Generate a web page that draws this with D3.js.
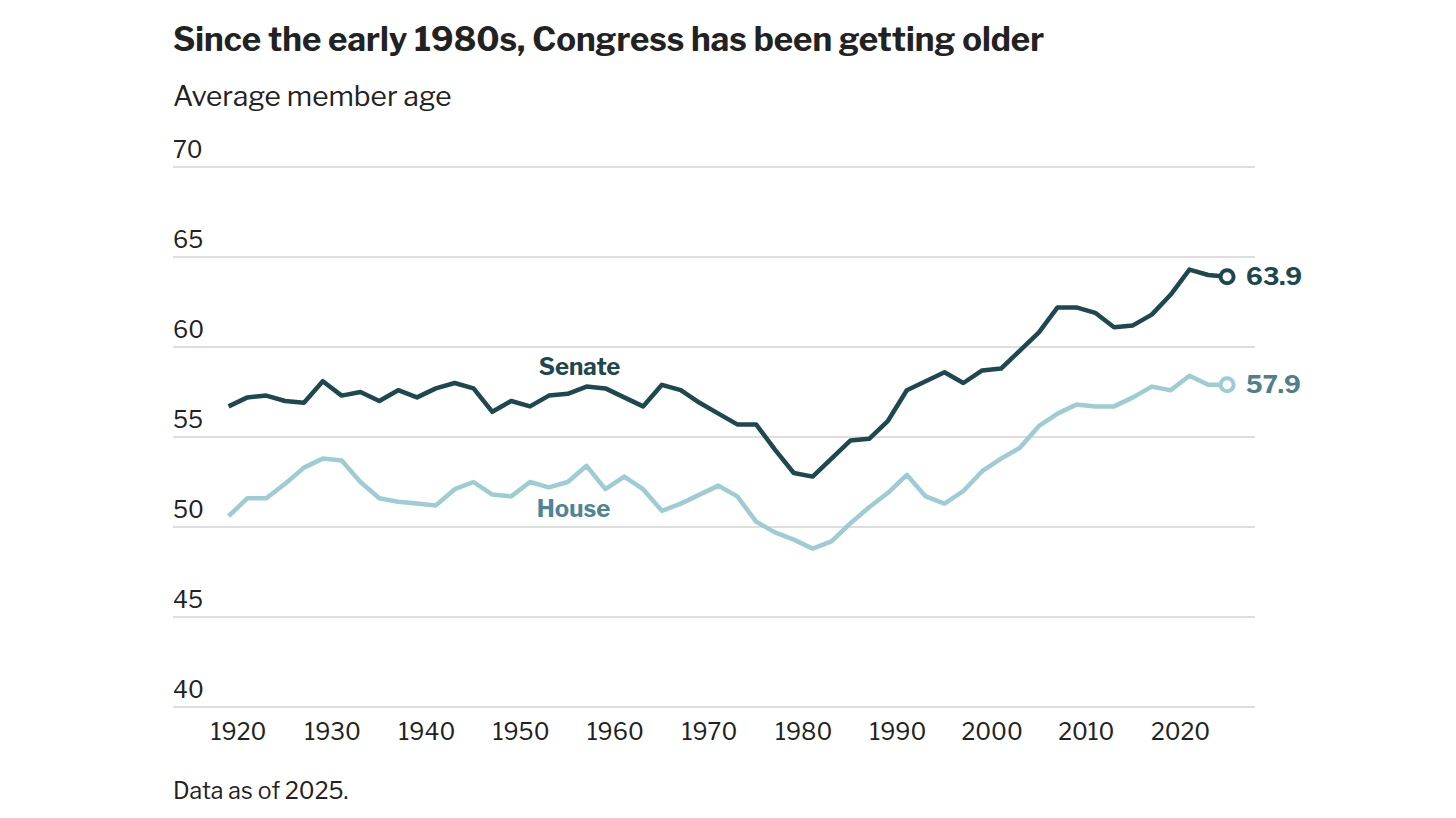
<!DOCTYPE html>
<html>
<head>
<meta charset="utf-8">
<script src="https://cdn.jsdelivr.net/npm/d3@7"></script>
<style>
  body { margin: 0; background: #fff; }
  svg text { font-family: "Libre Franklin", Roboto, "Liberation Sans", sans-serif; }
</style>
</head>
<body>
<div id="chart"></div>
<script>
var width = 1456;
var height = 818;

// congresses, every two years
var years = d3.range(1919, 2026, 2);

var senateAge = [
  56.7, 57.2, 57.3, 57.0, 56.9, 58.1, 57.3, 57.5, 57.0, 57.6,
  57.2, 57.7, 58.0, 57.7, 56.4, 57.0, 56.7, 57.3, 57.4, 57.8,
  57.7, 57.2, 56.7, 57.9, 57.6, 56.9, 56.3, 55.7, 55.7, 54.3,
  53.0, 52.8, 53.8, 54.8, 54.9, 55.9, 57.6, 58.1, 58.6, 58.0,
  58.7, 58.8, 59.8, 60.8, 62.2, 62.2, 61.9, 61.1, 61.2, 61.8,
  62.9, 64.3, 64.0, 63.9
];

var houseAge = [
  50.6, 51.6, 51.6, 52.4, 53.3, 53.8, 53.7, 52.5, 51.6, 51.4,
  51.3, 51.2, 52.1, 52.5, 51.8, 51.7, 52.5, 52.2, 52.5, 53.4,
  52.1, 52.8, 52.1, 50.9, 51.3, 51.8, 52.3, 51.7, 50.3, 49.7,
  49.3, 48.8, 49.2, 50.2, 51.1, 51.9, 52.9, 51.7, 51.3, 52.0,
  53.1, 53.8, 54.4, 55.6, 56.3, 56.8, 56.7, 56.7, 57.2, 57.8,
  57.6, 58.4, 57.9, 57.9
];

var yTicks = [40, 45, 50, 55, 60, 65, 70];
var xTicks = [1920, 1930, 1940, 1950, 1960, 1970, 1980, 1990, 2000, 2010, 2020];

var senateColor = "#1e4850";
var houseColor = "#9ecbd4";
var houseText = "#4d8593";

var svg = d3.select("#chart").append("svg")
    .attr("width", width)
    .attr("height", height);

var xScale = d3.scaleLinear()
    .domain([1919, 2025])
    .range([228.6, 1227.1]);

var yScale = d3.scaleLinear()
    .domain([40, 70])
    .range([707, 167]);

// title block
svg.append("text")
    .attr("x", 173).attr("y", 51)
    .style("font-size", "33px")
    .style("font-weight", "bold")
    .style("fill", "#222")
    .text("Since the early 1980s, Congress has been getting older");

svg.append("text")
    .attr("x", 173).attr("y", 106)
    .style("font-size", "28px")
    .style("fill", "#222")
    .text("Average member age");

// gridlines + y labels
var grid = svg.append("g");
grid.selectAll("line")
    .data(yTicks)
    .enter().append("line")
    .attr("x1", 173).attr("x2", 1255)
    .attr("y1", function(d) { return yScale(d); })
    .attr("y2", function(d) { return yScale(d); })
    .style("stroke", "#d3d3d3")
    .style("stroke-width", 1.5);

grid.selectAll("text")
    .data(yTicks)
    .enter().append("text")
    .attr("x", 173)
    .attr("y", function(d) { return yScale(d) - 9; })
    .style("font-size", "23px")
    .style("fill", "#222")
    .text(function(d) { return d; });

// x axis, labels only
var xAxis = d3.axisBottom(xScale)
    .tickValues(xTicks)
    .tickFormat(d3.format("d"))
    .tickSize(0)
    .tickPadding(0);

var xg = svg.append("g")
    .attr("transform", "translate(0,723)")
    .call(xAxis);
xg.select(".domain").remove();
xg.selectAll("text")
    .attr("dy", "0.75em")
    .style("font-size", "23px")
    .style("font-family", "\"Libre Franklin\", Roboto, \"Liberation Sans\", sans-serif")
    .style("fill", "#222");

var line = d3.line()
    .x(function(d, i) { return xScale(years[i]); })
    .y(function(d) { return yScale(d); });

svg.append("path")
    .attr("d", line(houseAge))
    .style("fill", "none")
    .style("stroke", houseColor)
    .style("stroke-width", 4.5)
    .style("stroke-linejoin", "round");

svg.append("path")
    .attr("d", line(senateAge))
    .style("fill", "none")
    .style("stroke", senateColor)
    .style("stroke-width", 4.5)
    .style("stroke-linejoin", "round");

// end markers
var ends = [
  { value: senateAge[senateAge.length - 1], color: senateColor, text: senateColor },
  { value: houseAge[houseAge.length - 1], color: houseColor, text: "#4f7f89" }
];

svg.selectAll(".endpt")
    .data(ends)
    .enter().append("circle")
    .attr("class", "endpt")
    .attr("cx", xScale(2025))
    .attr("cy", function(d) { return yScale(d.value); })
    .attr("r", 6.5)
    .style("fill", "#fff")
    .style("stroke", function(d) { return d.color; })
    .style("stroke-width", 4);

svg.selectAll(".endlabel")
    .data(ends)
    .enter().append("text")
    .attr("class", "endlabel")
    .attr("x", xScale(2025) + 19)
    .attr("y", function(d) { return yScale(d.value) + 8; })
    .style("font-size", "24.5px")
    .style("font-weight", "bold")
    .style("fill", function(d) { return d.text; })
    .text(function(d) { return d.value.toFixed(1); });

// series labels
svg.append("text")
    .attr("x", xScale(1957) - 7).attr("y", yScale(58.9) + 8)
    .attr("text-anchor", "middle")
    .style("font-size", "24px")
    .style("font-weight", "bold")
    .style("fill", senateColor)
    .text("Senate");

svg.append("text")
    .attr("x", xScale(1957) - 13).attr("y", yScale(51.0) + 8)
    .attr("text-anchor", "middle")
    .style("font-size", "24px")
    .style("font-weight", "bold")
    .style("fill", houseText)
    .text("House");

// note
svg.append("text")
    .attr("x", 173).attr("y", 799)
    .style("font-size", "23px")
    .style("fill", "#222")
    .text("Data as of 2025.");
</script>
</body>
</html>
